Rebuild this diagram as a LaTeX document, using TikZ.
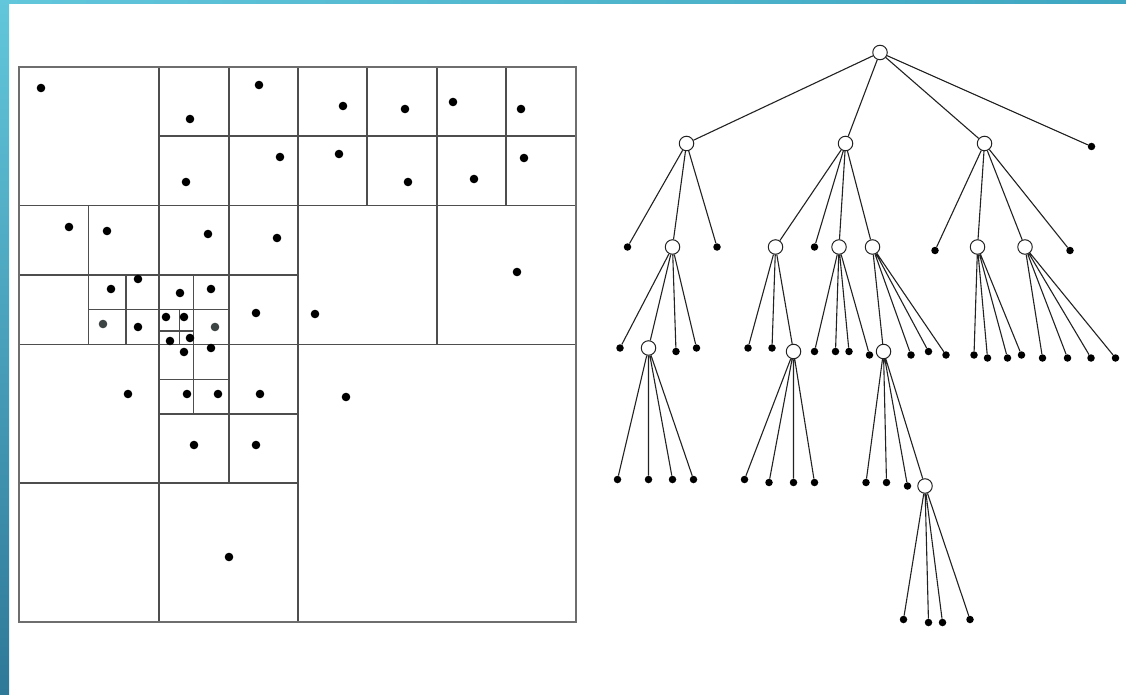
\documentclass[tikz,border=0pt]{standalone}
\usepackage{tikz}
\definecolor{barlight}{HTML}{62C7DB}
\definecolor{barmid}{HTML}{3FA6C1}
\definecolor{bardark}{HTML}{2E7898}
\definecolor{gridgray}{HTML}{4E4E4E}
\definecolor{framegray}{HTML}{6E6E6E}
\definecolor{inkgray}{HTML}{222222}
\definecolor{dotgray}{HTML}{3C4444}
\tikzset{
  quadline/.style={draw=gridgray,line width=1.7pt},
  quadframe/.style={draw=framegray,line width=2.5pt},
  treenode/.style={circle,draw=inkgray,line width=1pt,fill=white,inner sep=0pt,minimum size=14.5pt},
  treeleaf/.style={circle,fill=black,inner sep=0pt,minimum size=7.5pt},
  treelink/.style={draw=inkgray,line width=1.1pt}
}

\begin{document}
\begin{tikzpicture}[x=1pt,y=-1pt]
    \fill[white] (0,0) rectangle (1126,695);
    \useasboundingbox (0,0) rectangle (1126,695);
    \fill[left color=barlight,right color=barmid] (0,0) rectangle (1126,4);
    \fill[top color=barlight,bottom color=bardark] (0,0) rectangle (9,695);

    % quadtree
    \draw[quadline] (159,136) -- (576,136);
    \draw[quadline] (19,205.5) -- (576,205.5);
    \draw[quadline] (19,275) -- (298,275);
    \draw[quadline] (88.5,309.5) -- (229,309.5);
    \draw[quadline] (159,331) -- (193.5,331);
    \draw[quadline] (19,344.5) -- (576,344.5);
    \draw[quadline] (159,379.5) -- (229,379.5);
    \draw[quadline] (159,414) -- (298,414);
    \draw[quadline] (19,483) -- (298,483);
    \draw[quadline] (88.5,205.5) -- (88.5,344.5);
    \draw[quadline] (126,275) -- (126,344.5);
    \draw[quadline] (159,67) -- (159,622);
    \draw[quadline] (179.5,309.5) -- (179.5,344.5);
    \draw[quadline] (193.5,275) -- (193.5,414);
    \draw[quadline] (229,67) -- (229,483);
    \draw[quadline] (298,67) -- (298,622);
    \draw[quadline] (367,67) -- (367,205.5);
    \draw[quadline] (437,67) -- (437,344.5);
    \draw[quadline] (506,67) -- (506,205.5);
    \draw[quadframe] (19,67) rectangle (576,622);

    \fill (41,88) circle (4.3) (190,119) circle (4.3) (259,85) circle (4.3) (186,182) circle (4.3) (280,157) circle (4.3);
    \fill (69,227) circle (4.3) (107,231) circle (4.3) (208,234) circle (4.3) (277,238) circle (4.3);
    \fill (111,289) circle (4.3) (138,279) circle (4.3) (138,327) circle (4.3) (180,293) circle (4.3) (211,289) circle (4.3);
    \fill (166,317) circle (4.3) (184,317) circle (4.3) (170,341) circle (4.3) (190,338) circle (4.3) (256,313) circle (4.3);
    \fill[dotgray] (103,324) circle (4.3) (215,327) circle (4.3);
    \fill (343,106) circle (4.3) (405,109) circle (4.3) (453,102) circle (4.3) (521,109) circle (4.3);
    \fill (339,154) circle (4.3) (408,182) circle (4.3) (474,179) circle (4.3) (524,158) circle (4.3);
    \fill (315,314) circle (4.3) (517,272) circle (4.3) (346,397) circle (4.3);
    \fill (128,394) circle (4.3) (184,352) circle (4.3) (211,348) circle (4.3) (187,394) circle (4.3) (218,394) circle (4.3);
    \fill (260,394) circle (4.3) (194,445) circle (4.3) (256,445) circle (4.3) (229,557) circle (4.3);

    % tree
    \node[treenode] (r) at (880,52.5) {};
    \node[treenode] (a) at (686.5,143.5) {};
    \node[treenode] (b) at (845.5,143.5) {};
    \node[treenode] (c) at (984.5,143.5) {};
    \node[treeleaf] (d) at (1091.5,146.5) {};

    \node[treeleaf] (a1) at (627.5,247) {};
    \node[treenode] (a2) at (672.5,247) {};
    \node[treeleaf] (a3) at (717,247) {};
    \node[treenode] (b1) at (775.5,247) {};
    \node[treeleaf] (b2) at (814.5,247) {};
    \node[treenode] (b3) at (839,247) {};
    \node[treenode] (b4) at (872.5,247) {};
    \node[treeleaf] (c1) at (935,250.5) {};
    \node[treenode] (c2) at (977.5,247) {};
    \node[treenode] (c3) at (1025,247) {};
    \node[treeleaf] (c4) at (1070,250.5) {};

    \node[treeleaf] (a21) at (620,348) {};
    \node[treenode] (a22) at (648.5,348) {};
    \node[treeleaf] (a23) at (676,351.5) {};
    \node[treeleaf] (a24) at (696.5,348) {};
    \node[treeleaf] (b11) at (748,348) {};
    \node[treeleaf] (b12) at (772,348) {};
    \node[treenode] (b13) at (793.5,351.5) {};
    \node[treeleaf] (b31) at (814.5,351.5) {};
    \node[treeleaf] (b32) at (835.5,351.5) {};
    \node[treeleaf] (b33) at (849,351.5) {};
    \node[treeleaf] (b34) at (869.5,355) {};
    \node[treenode] (b41) at (883.5,351.5) {};
    \node[treeleaf] (b42) at (911,355) {};
    \node[treeleaf] (b43) at (928.5,351.5) {};
    \node[treeleaf] (b44) at (946,355) {};
    \node[treeleaf] (c21) at (974,355) {};
    \node[treeleaf] (c22) at (987.5,358) {};
    \node[treeleaf] (c23) at (1007.5,358) {};
    \node[treeleaf] (c24) at (1021.5,355) {};
    \node[treeleaf] (c31) at (1042.5,358) {};
    \node[treeleaf] (c32) at (1067.5,358) {};
    \node[treeleaf] (c33) at (1091,358) {};
    \node[treeleaf] (c34) at (1115.5,358) {};

    \node[treeleaf] (a221) at (617.5,479.5) {};
    \node[treeleaf] (a222) at (648.5,479.5) {};
    \node[treeleaf] (a223) at (672.5,479.5) {};
    \node[treeleaf] (a224) at (693.5,479.5) {};
    \node[treeleaf] (b131) at (744.5,479.5) {};
    \node[treeleaf] (b132) at (769,482.5) {};
    \node[treeleaf] (b133) at (793.5,482.5) {};
    \node[treeleaf] (b134) at (814.5,482.5) {};
    \node[treeleaf] (b411) at (866,482.5) {};
    \node[treeleaf] (b412) at (886.5,482.5) {};
    \node[treeleaf] (b413) at (907.5,486) {};
    \node[treenode] (b414) at (925,486) {};

    \node[treeleaf] (e1) at (903.5,619.5) {};
    \node[treeleaf] (e2) at (928.5,622.5) {};
    \node[treeleaf] (e3) at (942.5,622.5) {};
    \node[treeleaf] (e4) at (970,619.5) {};

    \draw[treelink] (r) -- (a) (r) -- (b) (r) -- (c) (r) -- (d);
    \draw[treelink] (a) -- (a1) (a) -- (a2) (a) -- (a3);
    \draw[treelink] (b) -- (b1) (b) -- (b2) (b) -- (b3) (b) -- (b4);
    \draw[treelink] (c) -- (c1) (c) -- (c2) (c) -- (c3) (c) -- (c4);
    \draw[treelink] (a2) -- (a21) (a2) -- (a22) (a2) -- (a23) (a2) -- (a24);
    \draw[treelink] (b1) -- (b11) (b1) -- (b12) (b1) -- (b13);
    \draw[treelink] (b3) -- (b31) (b3) -- (b32) (b3) -- (b33) (b3) -- (b34);
    \draw[treelink] (b4) -- (b41) (b4) -- (b42) (b4) -- (b43) (b4) -- (b44);
    \draw[treelink] (c2) -- (c21) (c2) -- (c22) (c2) -- (c23) (c2) -- (c24);
    \draw[treelink] (c3) -- (c31) (c3) -- (c32) (c3) -- (c33) (c3) -- (c34);
    \draw[treelink] (a22) -- (a221) (a22) -- (a222) (a22) -- (a223) (a22) -- (a224);
    \draw[treelink] (b13) -- (b131) (b13) -- (b132) (b13) -- (b133) (b13) -- (b134);
    \draw[treelink] (b41) -- (b411) (b41) -- (b412) (b41) -- (b413) (b41) -- (b414);
    \draw[treelink] (b414) -- (e1) (b414) -- (e2) (b414) -- (e3) (b414) -- (e4);
\end{tikzpicture}
\end{document}
